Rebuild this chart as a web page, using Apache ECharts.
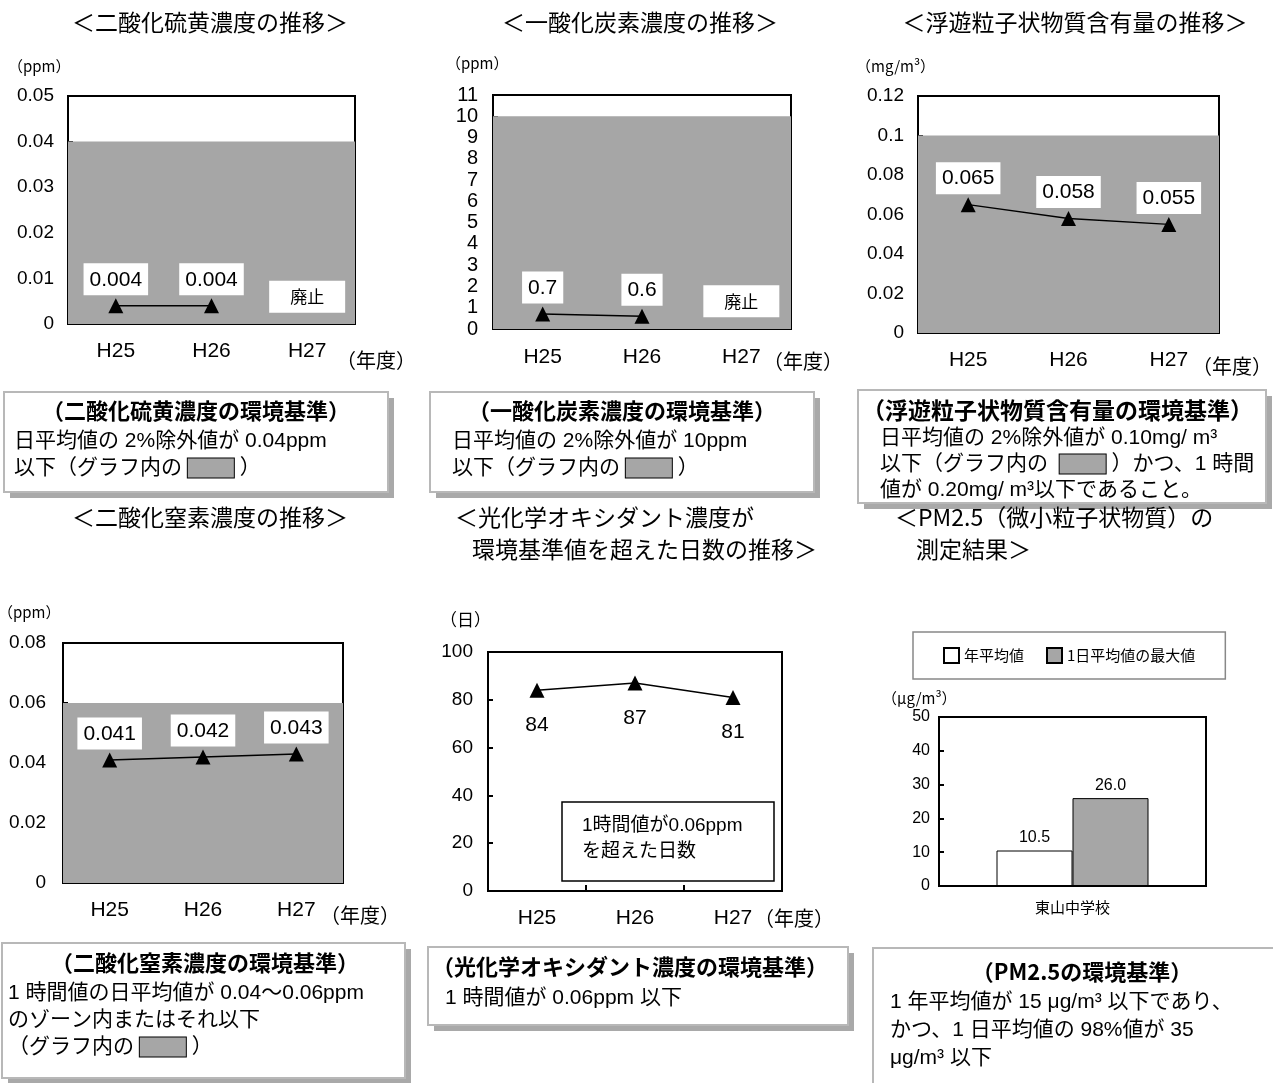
<!DOCTYPE html>
<html><head><meta charset="utf-8">
<script src="https://cdn.jsdelivr.net/npm/echarts@6/dist/echarts.min.js"></script>
<style>html,body{margin:0;padding:0;background:#fff}#c{width:1273px;height:1083px}</style>
</head><body><div id="c"></div>
<script>
// ---- data ----
const years = ['H25', 'H26', 'H27'];
const so2 = [0.004, 0.004, null];
const co = [0.7, 0.6, null];
const spm = [0.065, 0.058, 0.055];
const no2 = [0.041, 0.042, 0.043];
const ox = [84, 87, 81];
const so2Std = 0.04, coStd = 10, spmStd = 0.1, no2Std = 0.06;
const pmSites = ['東山中学校'];
const pmAnnual = [10.5];
const pmDailyMax = [26.0];
const pmNames = ['年平均値', '1日平均値の最大値'];

const NUM = "'Liberation Sans', Arial, 'Noto Sans CJK JP', sans-serif";
const JP = "'Noto Sans CJK JP', sans-serif";
const GRAY = '#a6a6a6';

const grids = [
  {left: 68, top: 96, width: 287, height: 228},
  {left: 493, top: 95, width: 298, height: 234},
  {left: 918, top: 96, width: 301, height: 237},
  {left: 63, top: 643, width: 280, height: 240},
  {left: 488, top: 652, width: 294, height: 239},
  {left: 939, top: 717, width: 267, height: 169}
].map(g => Object.assign({show: true, borderColor: '#000', borderWidth: 2, backgroundColor: '#fff'}, g));

function xAx(i, data, fs, margin) {
  return {gridIndex: i, type: 'category', data: data, boundaryGap: true,
    axisLine: {lineStyle: {color: '#000', width: 2}},
    axisTick: {show: i !== 5, inside: true, length: 6, lineStyle: {color: '#000', width: 2}},
    axisLabel: {color: '#000', fontSize: fs, fontFamily: i === 5 ? JP : NUM, margin: margin}};
}
function yAx(i, max, interval, fs, margin) {
  return {gridIndex: i, type: 'value', min: 0, max: max, interval: interval,
    splitLine: {show: false},
    axisLine: {show: true, lineStyle: {color: '#000', width: 2}},
    axisTick: {show: true, inside: true, length: 5, lineStyle: {color: '#000', width: 2}},
    axisLabel: {color: '#000', fontSize: fs, fontFamily: NUM, margin: margin}};
}
const xAxes = [xAx(0, years, 21, 17), xAx(1, years, 21, 18), xAx(2, years, 21, 17),
  xAx(3, years, 21, 17), xAx(4, years, 21, 17), xAx(5, pmSites, 15, 14)];
const yAxes = [yAx(0, 0.05, 0.01, 19, 14), yAx(1, 11, 1, 20, 15), yAx(2, 0.12, 0.02, 19, 14),
  yAx(3, 0.08, 0.02, 19, 17), yAx(4, 100, 20, 19, 15), yAx(5, 50, 10, 16, 9)];

function lineSeries(i, data, std, labelBelow, extraMark) {
  const s = {type: 'line', xAxisIndex: i, yAxisIndex: i, data: data,
    symbol: 'triangle', symbolSize: 15, connectNulls: false,
    itemStyle: {color: '#000'}, lineStyle: {color: '#000', width: 1.5},
    label: labelBelow ?
      {show: true, position: 'bottom', distance: 17, color: '#000', fontSize: 21, fontFamily: NUM} :
      {show: true, position: 'top', distance: 3, color: '#000', fontSize: 21, fontFamily: NUM,
       backgroundColor: '#fff', padding: [6, 6, 5, 6]},
    z: 5};
  if (std != null) {
    s.markArea = {silent: true, itemStyle: {color: GRAY}, data: [[{yAxis: 0}, {yAxis: std}]]};
  }
  if (extraMark) s.markPoint = extraMark;
  return s;
}
function haishi(yv) {
  return {symbol: 'rect', symbolSize: 0, silent: true,
    label: {show: true, formatter: '廃止', color: '#000', fontSize: 17, fontFamily: JP,
      backgroundColor: '#fff', padding: [8, 21, 7, 21], position: 'inside'},
    data: [{coord: ['H27', yv]}]};
}

const series = [
  lineSeries(0, so2, so2Std, false, haishi(0.006)),
  lineSeries(1, co, coStd, false, haishi(1.3)),
  lineSeries(2, spm, spmStd, false),
  lineSeries(3, no2, no2Std, false),
  lineSeries(4, ox, null, true),
  {type: 'bar', name: pmNames[0], xAxisIndex: 5, yAxisIndex: 5, data: pmAnnual, barWidth: 76, barGap: '0%',
   itemStyle: {color: '#fff', borderColor: '#000', borderWidth: 1},
   label: {show: true, position: 'top', fontSize: 16, color: '#000', fontFamily: NUM, formatter: p => p.value.toFixed(1)}},
  {type: 'bar', name: pmNames[1], xAxisIndex: 5, yAxisIndex: 5, data: pmDailyMax, barWidth: 76, barGap: '0%',
   itemStyle: {color: GRAY, borderColor: '#000', borderWidth: 1},
   label: {show: true, position: 'top', fontSize: 16, color: '#000', fontFamily: NUM, formatter: p => p.value.toFixed(1)}}
];

// ---- graphic helpers ----
const BODY = "'Liberation Sans', Arial, 'Noto Sans CJK JP', sans-serif";
function t(x, y, text, fs, opts) {
  opts = opts || {};
  const st = {text: text, fill: '#000', fontSize: fs, fontWeight: opts.bold ? 'bold' : 'normal',
    fontFamily: opts.family || JP, align: opts.align || 'left', verticalAlign: 'middle'};
  if (opts.rich) st.rich = opts.rich;
  return {type: 'text', x: x, y: y, z: 20, style: st};
}
const swRich = {sw: {width: 46, height: 19, backgroundColor: GRAY, borderColor: '#000', borderWidth: 1, fontSize: 20}};
function box(x, y, w, h) {
  return [
    {type: 'rect', shape: {x: x + 6, y: y + 6, width: w, height: h}, style: {fill: '#a9a9a9'}, z: 10},
    {type: 'rect', shape: {x: x, y: y, width: w, height: h}, style: {fill: '#fff', stroke: '#b8b8b8', lineWidth: 2}, z: 11}
  ];
}
const B = {family: BODY};
const BR = {family: BODY, rich: swRich};

const graphics = [].concat(
  // titles
  t(210, 22, '＜二酸化硫黄濃度の推移＞', 23, {align: 'center'}),
  t(640, 22, '＜一酸化炭素濃度の推移＞', 23, {align: 'center'}),
  t(1075, 22, '＜浮遊粒子状物質含有量の推移＞', 23, {align: 'center'}),
  t(210, 517, '＜二酸化窒素濃度の推移＞', 23, {align: 'center'}),
  t(455, 517, '＜光化学オキシダント濃度が', 23),
  t(472, 549, '環境基準値を超えた日数の推移＞', 23),
  t(895, 517, '＜PM2.5（微小粒子状物質）の', 23),
  t(916, 549, '測定結果＞', 23),
  // unit labels
  t(8, 66, '（ppm）', 15),
  t(446, 63, '（ppm）', 15),
  t(856, 66, '（mg/m³）', 15),
  t(-2, 612, '（ppm）', 15),
  t(440, 620, '（日）', 17),
  t(882, 698, '（μg/m³）', 15),
  t(336, 360, '（年度）', 20),
  t(763, 361, '（年度）', 20),
  t(1192, 366, '（年度）', 20),
  t(320, 915, '（年度）', 20),
  t(754, 918, '（年度）', 20),
  // ox note box
  {type: 'rect', shape: {x: 562, y: 802, width: 212, height: 79}, style: {fill: '#fff', stroke: '#000', lineWidth: 1.5}, z: 15},
  t(582, 826, '1時間値が0.06ppm', 19, B),
  t(582, 852, 'を超えた日数', 19, B),
  // standard boxes
  box(4, 392, 384, 100),
  t(196, 411, '（二酸化硫黄濃度の環境基準）', 22, {align: 'center', bold: true}),
  t(14, 441, '日平均値の 2%除外値が 0.04ppm', 21, B),
  t(14, 468, '以下（グラフ内の {sw| } ）', 21, BR),
  box(430, 392, 384, 100),
  t(622, 411, '（一酸化炭素濃度の環境基準）', 22, {align: 'center', bold: true}),
  t(452, 441, '日平均値の 2%除外値が 10ppm', 21, B),
  t(452, 468, '以下（グラフ内の {sw| } ）', 21, BR),
  box(858, 390, 408, 113),
  t(862, 410, '（浮遊粒子状物質含有量の環境基準）', 23, {bold: true}),
  t(880, 438, '日平均値の 2%除外値が 0.10mg/ m³', 21, B),
  t(880, 464, '以下（グラフ内の  {sw| } ）かつ、1 時間', 21, BR),
  t(880, 490, '値が 0.20mg/ m³以下であること。', 21, B),
  box(2, 943, 403, 135),
  t(205, 963, '（二酸化窒素濃度の環境基準）', 22, {align: 'center', bold: true}),
  t(8, 993, '1 時間値の日平均値が 0.04～0.06ppm', 21, B),
  t(8, 1020, 'のゾーン内またはそれ以下', 21, B),
  t(8, 1047, '（グラフ内の {sw| } ）', 21, BR),
  box(428, 947, 420, 78),
  t(432, 967, '（光化学オキシダント濃度の環境基準）', 22, {bold: true}),
  t(445, 998, '1 時間値が 0.06ppm 以下', 21, B),
  box(873, 948, 420, 140),
  t(1082, 972, '（PM2.5の環境基準）', 22, {align: 'center', bold: true}),
  t(890, 1002, '1 年平均値が 15 μg/m³ 以下であり、', 21, B),
  t(890, 1030, 'かつ、1 日平均値の 98%値が 35', 21, B),
  t(890, 1058, 'μg/m³ 以下', 21, B)
);

const chart = echarts.init(document.getElementById('c'), null, {renderer: 'canvas'});
chart.setOption({
  animation: false,
  backgroundColor: '#fff',
  textStyle: {fontFamily: JP},
  grid: grids,
  xAxis: xAxes,
  yAxis: yAxes,
  legend: {data: pmNames, left: 913, top: 632, orient: 'horizontal',
    borderColor: '#888', borderWidth: 1.5, padding: [15, 30, 15, 30], itemGap: 22,
    itemWidth: 15, itemHeight: 15, icon: 'rect',
    textStyle: {fontSize: 15, color: '#000', fontFamily: JP}},
  series: series,
  graphic: graphics
});
</script></body></html>
